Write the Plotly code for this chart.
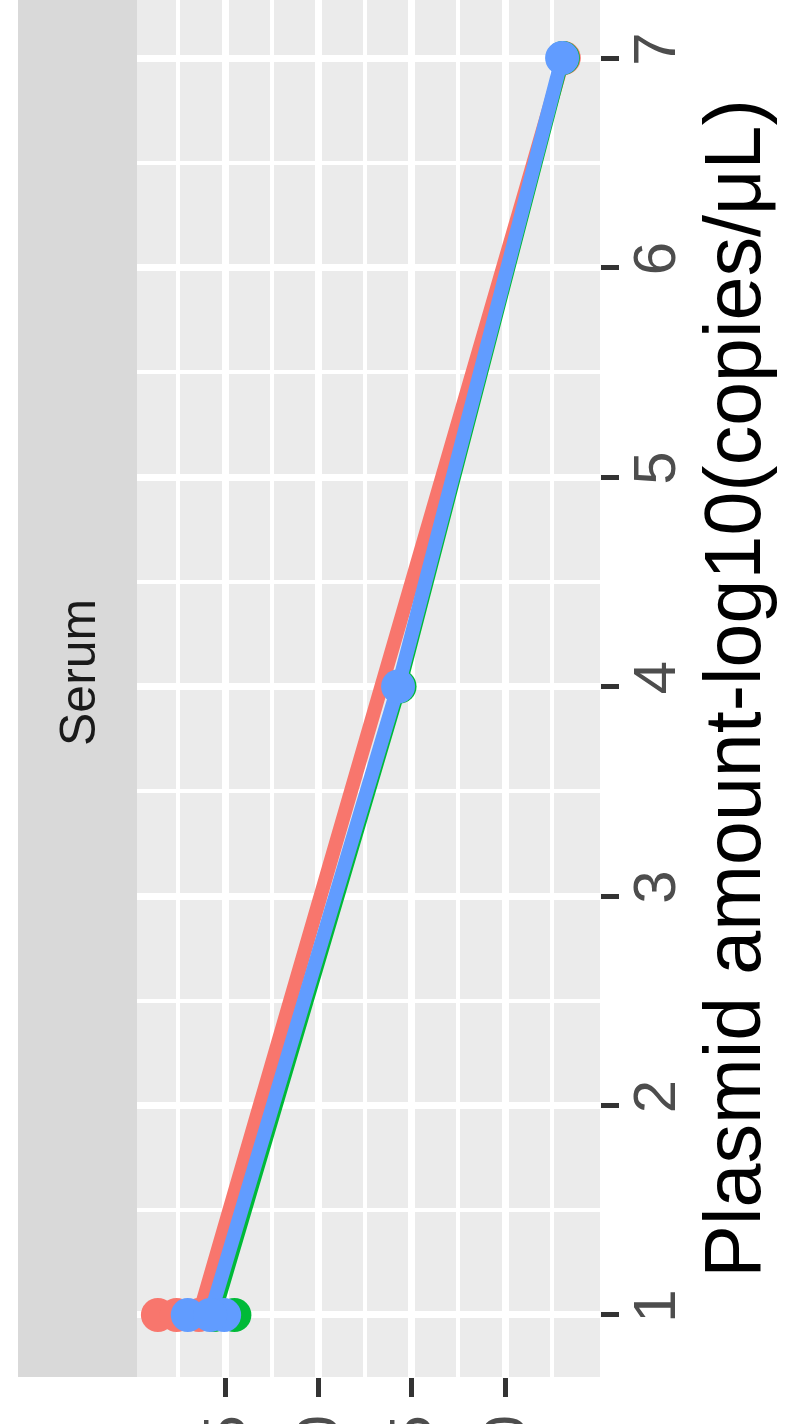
import plotly.graph_objects as go

# Plasmid amount (log10 copies/uL) and measured Ct, per primer set, in path order
red_plasmid = [1, 1, 1, 7]
red_ct = [38.6, 37.6, 36.4, 16.85]

green_plasmid = [1, 1, 4, 7]
green_ct = [34.5, 35.6, 25.65, 16.9]

blue_plasmid = [1, 1, 1, 4, 7]
blue_ct = [37.0, 35.05, 35.8, 25.73, 16.94]

series_colors = ["#F8766D", "#00BA38", "#619CFF"]

ct_ticks = [20, 25, 30, 35]
ct_minor = [17.5, 22.5, 27.5, 32.5, 37.5]
plasmid_ticks = [1, 2, 3, 4, 5, 6, 7]
plasmid_minor = [1.5, 2.5, 3.5, 4.5, 5.5, 6.5]

W, H = 794, 1424
panel_left, panel_right = 137, 600
panel_bottom = 1377
strip_left = 18

FONT = "Liberation Sans, Arial, Helvetica, sans-serif"

fig = go.Figure()
for xs, ys, col in zip([red_plasmid, green_plasmid, blue_plasmid],
                       [red_ct, green_ct, blue_ct], series_colors):
    fig.add_trace(go.Scatter(
        x=ys, y=xs, mode="lines+markers",
        line=dict(color=col, width=14),
        marker=dict(color=col, size=34, line=dict(width=0)),
        showlegend=False, cliponaxis=False,
    ))

fig.update_layout(
    width=W, height=H,
    margin=dict(l=0, r=0, t=0, b=0),
    paper_bgcolor="white",
    plot_bgcolor="#EBEBEB",
    font=dict(family=FONT),
    xaxis=dict(
        domain=[panel_left / W, panel_right / W],
        range=[39.72, 14.91],
        automargin=False,
        tickvals=ct_ticks,
        ticktext=[str(v) for v in ct_ticks],
        tickangle=-90,
        ticks="outside", ticklen=19, tickwidth=5, tickcolor="#333333",
        ticklabelstandoff=-6,
        tickfont=dict(size=60, color="#4D4D4D"),
        showgrid=True, gridcolor="white", gridwidth=7,
        minor=dict(tickvals=ct_minor, showgrid=True, gridcolor="white",
                   gridwidth=3.5, ticks=""),
        zeroline=False, showline=False,
    ),
    yaxis=dict(
        domain=[1 - panel_bottom / H, 1],
        range=[0.704, 7.277],
        automargin=False,
        side="right",
        tickvals=plasmid_ticks,
        tickangle=-90,
        ticks="outside", ticklen=18, tickwidth=5, tickcolor="#333333",
        ticklabelstandoff=-16,
        tickfont=dict(size=60, color="#4D4D4D"),
        showgrid=True, gridcolor="white", gridwidth=7,
        minor=dict(tickvals=plasmid_minor, showgrid=True, gridcolor="white",
                   gridwidth=3.5, ticks=""),
        zeroline=False, showline=False,
        title=dict(text="Plasmid amount-log10(copies/μL)",
                   font=dict(size=79, color="black"), standoff=5),
    ),
)

# Facet strip
fig.add_shape(type="rect", xref="paper", yref="paper",
              x0=strip_left / W, x1=panel_left / W,
              y0=1 - panel_bottom / H, y1=1,
              fillcolor="#D9D9D9", line=dict(width=0), layer="below")
fig.add_annotation(text="Serum", xref="paper", yref="paper",
                   x=48 / W, y=1 - 673 / H,
                   showarrow=False, textangle=-90,
                   font=dict(size=50, color="#1A1A1A", family=FONT))

fig.write_html("out.html")
